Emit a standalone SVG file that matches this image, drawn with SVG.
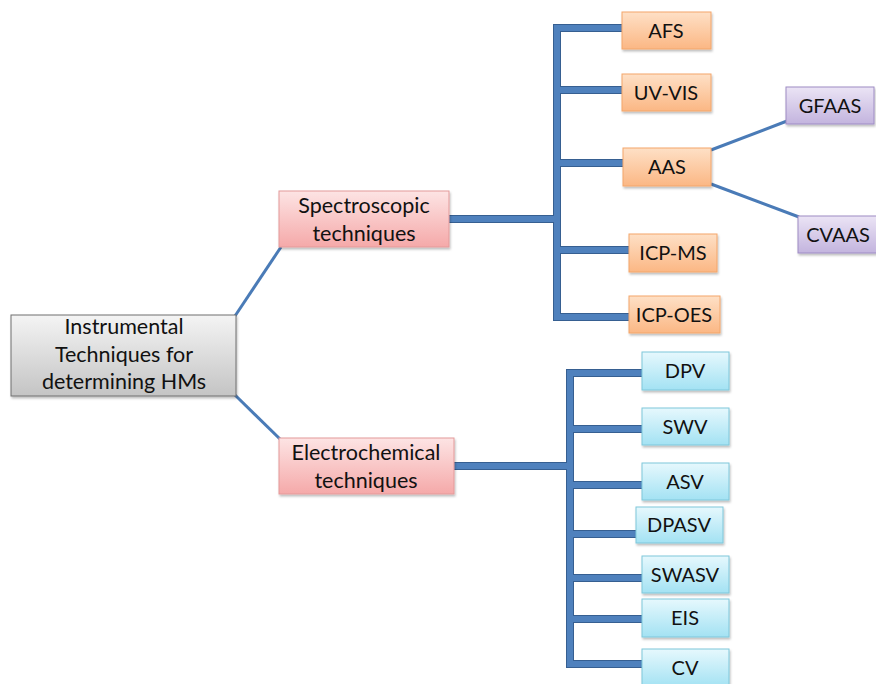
<svg xmlns="http://www.w3.org/2000/svg" width="876" height="684" viewBox="0 0 876 684">
<defs>
<linearGradient id="gGray" x1="0" y1="0" x2="0" y2="1"><stop offset="0" stop-color="#f4f4f4"/><stop offset="1" stop-color="#c4c4c4"/></linearGradient>
<linearGradient id="gRed" x1="0" y1="0" x2="0" y2="1"><stop offset="0" stop-color="#fde4e4"/><stop offset="1" stop-color="#f5a9a9"/></linearGradient>
<linearGradient id="gOrange" x1="0" y1="0" x2="0" y2="1"><stop offset="0" stop-color="#fee0c6"/><stop offset="1" stop-color="#fbb784"/></linearGradient>
<linearGradient id="gBlue" x1="0" y1="0" x2="0" y2="1"><stop offset="0" stop-color="#e6f8fd"/><stop offset="1" stop-color="#a3e2f3"/></linearGradient>
<linearGradient id="gPurple" x1="0" y1="0" x2="0" y2="1"><stop offset="0" stop-color="#ebe4f5"/><stop offset="1" stop-color="#c3b4de"/></linearGradient>
<filter id="sh" x="-10%" y="-10%" width="130%" height="140%"><feDropShadow dx="1" dy="2" stdDeviation="1.2" flood-color="#000" flood-opacity="0.25"/></filter>
</defs>
<style>
text{font-family:Lato,"Open Sans","Liberation Sans",sans-serif;font-size:20px;fill:#111;text-anchor:middle}
.big{font-size:21.5px}
.box{filter:url(#sh);stroke-width:1}
.gray{fill:url(#gGray);stroke:#6f6f6f}
.red{fill:url(#gRed);stroke:#e39a9a}
.orange{fill:url(#gOrange);stroke:#f3a66a}
.blue{fill:url(#gBlue);stroke:#7fc7da}
.purple{fill:url(#gPurple);stroke:#9e8cc4}
.thin{fill:none;stroke:#4a7bb7;stroke-width:3}
.thickO{fill:none;stroke:#365f91;stroke-width:8;stroke-linejoin:miter}
.thickI{fill:none;stroke:#4f81bd;stroke-width:6;stroke-linejoin:miter}
</style>
<g id="connectors">
<path class="thin" d="M235 316 L281 247"/>
<path class="thin" d="M235 395 L281 440"/>
<path class="thin" d="M711 150 L787 121"/>
<path class="thin" d="M711 184 L799 217"/>
<g id="spec-tree">
<path class="thickO" d="M449 219 H557 M622 28 H557 V317 H629 M557 90 H622 M557 163 H623 M557 250 H629"/>
<path class="thickI" d="M449 219 H557 M622 28 H557 V317 H629 M557 90 H622 M557 163 H623 M557 250 H629"/>
</g>
<g id="elec-tree">
<path class="thickO" d="M454 466 H570 M642 373 H570 V664 H642 M570 429 H642 M570 485 H642 M570 534 H636 M570 578 H642 M570 619 H642"/>
<path class="thickI" d="M454 466 H570 M642 373 H570 V664 H642 M570 429 H642 M570 485 H642 M570 534 H636 M570 578 H642 M570 619 H642"/>
</g>
</g>
<g id="root"><rect class="box gray" x="11" y="315" width="225" height="81"/>
<text class="big" x="124" y="334">Instrumental</text><text class="big" x="124" y="362">Techniques for</text><text class="big" x="124" y="389">determining HMs</text></g>
<g id="spectroscopic"><rect class="box red" x="279" y="191" width="170" height="56"/>
<text class="big" x="364" y="213">Spectroscopic</text><text class="big" x="364" y="241">techniques</text></g>
<g id="electrochemical"><rect class="box red" x="279" y="438" width="175" height="56"/>
<text class="big" x="366" y="460">Electrochemical</text><text class="big" x="366" y="488">techniques</text></g>
<g id="afs"><rect class="box orange" x="622" y="12" width="89" height="37"/><text x="666" y="38">AFS</text></g>
<g id="uvvis"><rect class="box orange" x="622" y="74" width="89" height="37"/><text x="666" y="100">UV-VIS</text></g>
<g id="aas"><rect class="box orange" x="623" y="148" width="88" height="38"/><text x="667" y="174">AAS</text></g>
<g id="icpms"><rect class="box orange" x="629" y="234" width="88" height="38"/><text x="673" y="260">ICP-MS</text></g>
<g id="icpoes"><rect class="box orange" x="629" y="296" width="91" height="37"/><text x="674" y="322">ICP-OES</text></g>
<g id="gfaas"><rect class="box purple" x="786" y="87" width="88" height="37"/><text x="830" y="113">GFAAS</text></g>
<g id="cvaas"><rect class="box purple" x="798" y="216" width="82" height="37"/><text x="838" y="242">CVAAS</text></g>
<g id="dpv"><rect class="box blue" x="642" y="352" width="87" height="38"/><text x="685" y="378">DPV</text></g>
<g id="swv"><rect class="box blue" x="642" y="408" width="87" height="37"/><text x="685" y="434">SWV</text></g>
<g id="asv"><rect class="box blue" x="642" y="463" width="87" height="37"/><text x="685" y="489">ASV</text></g>
<g id="dpasv"><rect class="box blue" x="636" y="507" width="87" height="36"/><text x="679" y="532">DPASV</text></g>
<g id="swasv"><rect class="box blue" x="642" y="556" width="87" height="37"/><text x="685" y="582">SWASV</text></g>
<g id="eis"><rect class="box blue" x="642" y="599" width="87" height="38"/><text x="685" y="625">EIS</text></g>
<g id="cv"><rect class="box blue" x="642" y="649" width="87" height="38"/><text x="685" y="675">CV</text></g>
</svg>
